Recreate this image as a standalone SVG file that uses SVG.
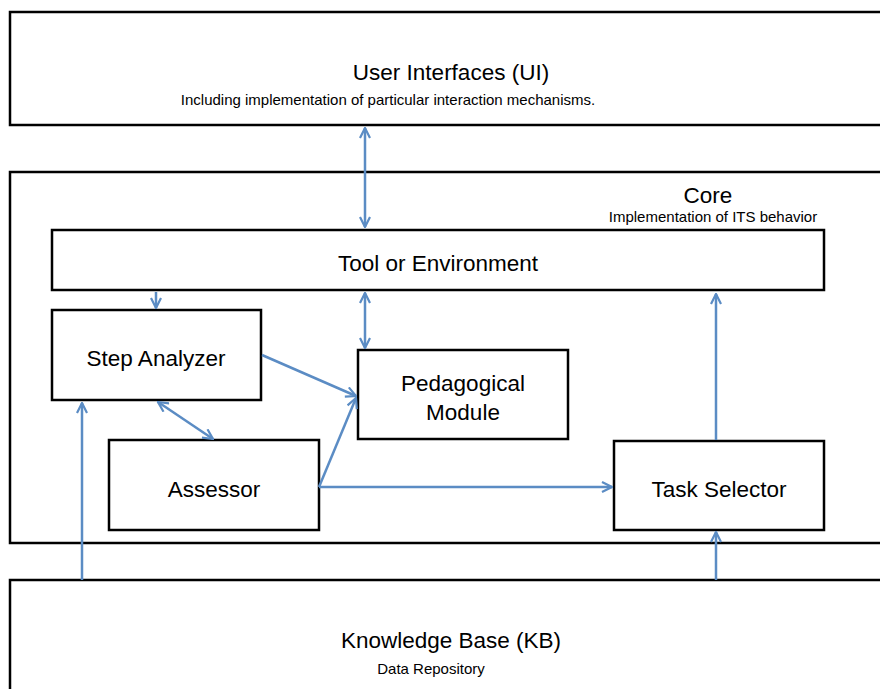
<svg xmlns="http://www.w3.org/2000/svg" width="880" height="689" viewBox="0 0 880 689">
<style>
.box{fill:#fff;stroke:#000;stroke-width:2.5}
.t{font-family:"Liberation Sans",Arial,sans-serif;fill:#000;text-anchor:middle}
.big{font-size:22.5px}
.small{font-size:15px}
.c{fill:none;stroke:#5b8cc4;stroke-width:2.5}
</style>
<defs>
<marker id="ah" viewBox="0 0 12 12" refX="11" refY="6" markerWidth="12" markerHeight="12" markerUnits="userSpaceOnUse" orient="auto-start-reverse">
<path d="M1,1 L11,6 L1,11" fill="none" stroke="#5b8cc4" stroke-width="2.2"/>
</marker>
</defs>
<rect width="880" height="689" fill="#fff"/>
<g id="ui">
<rect class="box" x="10" y="12" width="880" height="113"/>
<text class="t big" x="451" y="80">User Interfaces (UI)</text>
<text class="t small" x="388" y="105">Including implementation of particular interaction mechanisms.</text>
</g>
<g id="core">
<rect class="box" x="10" y="172" width="880" height="371"/>
<text class="t big" x="708" y="203">Core</text>
<text class="t small" x="713" y="222">Implementation of ITS behavior</text>
</g>
<g id="kb">
<rect class="box" x="10" y="580" width="880" height="130"/>
<text class="t big" x="451" y="648">Knowledge Base (KB)</text>
<text class="t small" x="431" y="674">Data Repository</text>
</g>
<g id="tool">
<rect class="box" x="52" y="230" width="772" height="60"/>
<text class="t big" x="438" y="271">Tool or Environment</text>
</g>
<g id="step">
<rect class="box" x="52" y="310" width="209" height="90"/>
<text class="t big" x="156" y="366">Step Analyzer</text>
</g>
<g id="ped">
<rect class="box" x="358" y="350" width="210" height="89"/>
<text class="t big" x="463" y="391">Pedagogical</text>
<text class="t big" x="463" y="420">Module</text>
</g>
<g id="assessor">
<rect class="box" x="109" y="440" width="210" height="90"/>
<text class="t big" x="214" y="497">Assessor</text>
</g>
<g id="task">
<rect class="box" x="614" y="441" width="210" height="89"/>
<text class="t big" x="719" y="497">Task Selector</text>
</g>
<g id="connectors">
<line class="c" x1="365" y1="128" x2="365" y2="227" marker-start="url(#ah)" marker-end="url(#ah)"/>
<line class="c" x1="156" y1="292" x2="156" y2="308" marker-end="url(#ah)"/>
<line class="c" x1="365" y1="293" x2="365" y2="348" marker-start="url(#ah)" marker-end="url(#ah)"/>
<line class="c" x1="262" y1="355" x2="356" y2="396" marker-end="url(#ah)"/>
<line class="c" x1="158" y1="402" x2="213" y2="439" marker-start="url(#ah)" marker-end="url(#ah)"/>
<line class="c" x1="319" y1="487" x2="356" y2="398" marker-end="url(#ah)"/>
<line class="c" x1="319" y1="487" x2="612" y2="487" marker-end="url(#ah)"/>
<line class="c" x1="716" y1="440" x2="716" y2="294" marker-end="url(#ah)"/>
<line class="c" x1="82" y1="580" x2="82" y2="403" marker-end="url(#ah)"/>
<line class="c" x1="716" y1="580" x2="716" y2="532" marker-end="url(#ah)"/>
</g>
</svg>
